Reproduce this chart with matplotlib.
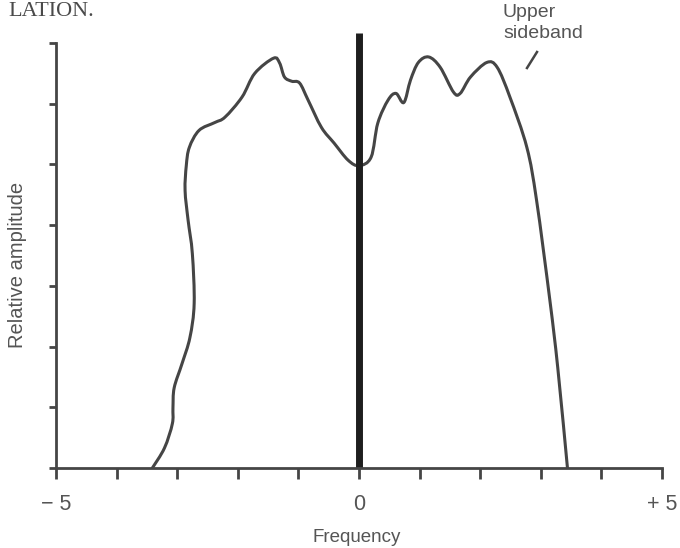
import numpy as np
import matplotlib.pyplot as plt
from matplotlib.lines import Line2D
from matplotlib.path import Path
from matplotlib.patches import PathPatch

plt.rcParams['font.family'] = ['Liberation Sans', 'DejaVu Sans']

# traced outline of the sideband spectrum (frequency, relative amplitude)
freq = [-3.41, -3.21, -3.08, -3.07, -3.05, -2.92, -2.79, -2.72, -2.75, -2.82,
        -2.87, -2.85, -2.80, -2.64, -2.38, -2.21, -1.93, -1.72, -1.41, -1.31,
        -1.23, -1.11, -0.98, -0.84, -0.62, -0.41, -0.18, 0.0, 0.20, 0.31,
        0.48, 0.61, 0.74, 0.85, 0.98, 1.15, 1.34, 1.56, 1.67, 1.84,
        2.11, 2.28, 2.49, 2.77, 2.93, 3.15, 3.28, 3.44]
amp = [0.0, 0.33, 0.73, 0.99, 1.32, 1.72, 2.15, 2.71, 3.53, 4.08,
       4.57, 4.98, 5.28, 5.56, 5.69, 5.78, 6.11, 6.50, 6.75, 6.67,
       6.44, 6.37, 6.34, 6.06, 5.61, 5.35, 5.07, 4.98, 5.12, 5.68,
       6.06, 6.17, 6.02, 6.39, 6.68, 6.77, 6.60, 6.19, 6.17, 6.44,
       6.68, 6.60, 6.11, 5.28, 4.41, 2.76, 1.65, 0.0]

carrier_x = 0.0
carrier_top = 7.16

xticks = np.arange(-5, 6)
yticks = np.arange(0, 8)
xtick_labels = {-5: '\u2212 5', 0: '0', 5: '+ 5'}

ink = '#454545'
text_col = '#555555'


def smooth_path(xs, ys):
    '''
    Bezier path passing through the traced points (Catmull-Rom handles)
    '''
    p = np.column_stack([xs, ys])
    verts = [p[0]]
    codes = [Path.MOVETO]
    for i in range(len(p) - 1):
        p0 = p[i - 1] if i > 0 else p[i]
        p3 = p[i + 2] if i + 2 < len(p) else p[i + 1]
        c1 = p[i] + (p[i + 1] - p0) / 6
        c2 = p[i + 1] - (p3 - p[i]) / 6
        verts += [c1, c2, p[i + 1]]
        codes += [Path.CURVE4] * 3
    return Path(verts, codes)


fig = plt.figure(figsize=(6.8, 5.48), dpi=100)
ax = fig.add_axes([56/680, 1 - 468/548, 606/680, 425/548])

ax.add_patch(PathPatch(smooth_path(freq, amp), facecolor='none', edgecolor=ink,
                       lw=2.2, joinstyle='round', capstyle='round'))
ax.plot([carrier_x, carrier_x], [0, carrier_top], color='#1e1e1e', lw=5, clip_on=False,
        solid_capstyle='butt')

ax.set_xlim(-5, 5)
ax.set_ylim(0, 7)
for s in ['top', 'right']:
    ax.spines[s].set_visible(False)
for s in ['left', 'bottom']:
    ax.spines[s].set_color(ink)
    ax.spines[s].set_linewidth(2)

ax.set_xticks(xticks)
ax.set_xticklabels([xtick_labels.get(int(t), '') for t in xticks])
ax.set_yticks(yticks)
ax.set_yticklabels([])
ax.tick_params(axis='x', direction='out', length=8, width=2, color=ink,
               labelsize=15.5, labelcolor=text_col, pad=11)
ax.tick_params(axis='y', direction='out', length=5, width=2, color=ink)

fig.text(357/680, 1 - 538/548, 'Frequency', ha='center', va='center',
         fontsize=13.5, color=text_col)
fig.text(18/680, 1 - 265/548, 'Relative amplitude', ha='center', va='center',
         rotation=90, fontsize=14.5, color=text_col)
fig.text(503/680, 1 - 4/548, 'Upper\nsideband', ha='left', va='top',
         fontsize=14, color=text_col, linespacing=1.3)
fig.add_artist(Line2D([537/680, 527/680], [1 - 52/548, 1 - 68/548],
                      color=ink, lw=1.8))
fig.text(8/680, 1 - 16/548, 'LATION.', ha='left', va='baseline',
         fontsize=16, color='#4a4a4a', family=['Liberation Serif', 'DejaVu Serif'])

fig.savefig('out.png', dpi=100)
